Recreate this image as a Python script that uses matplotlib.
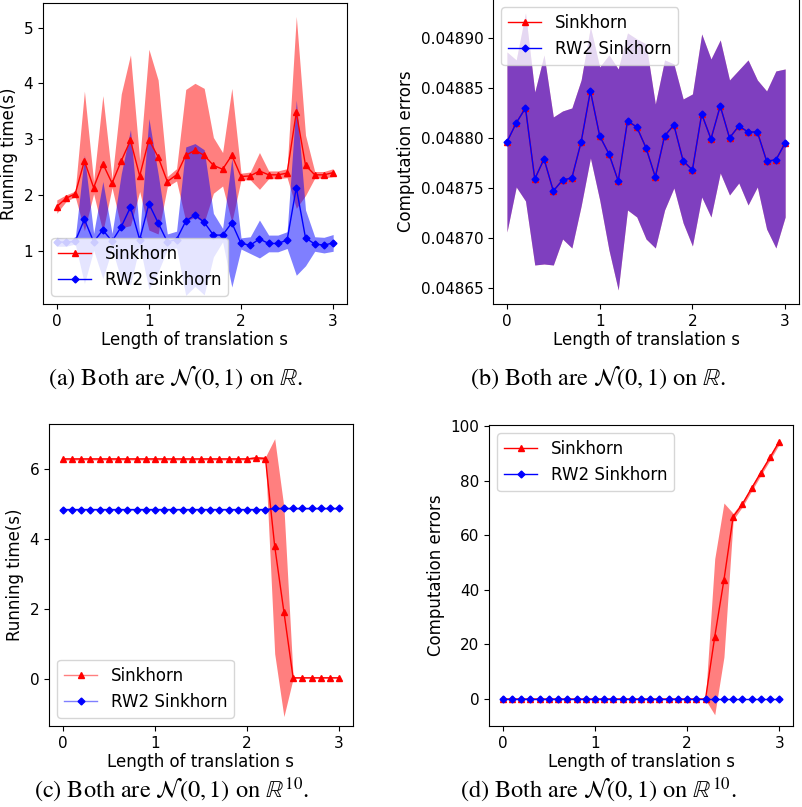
import numpy as np
import matplotlib.pyplot as plt
from matplotlib.ticker import FormatStrFormatter

plt.rcParams['mathtext.fontset'] = 'stix'

s = np.round(np.arange(31) * 0.1, 1)

# (a) running time, N(0,1) on R
time_a_sink = [1.79, 1.94, 2.02, 2.61, 2.13, 2.56, 2.21, 2.61, 2.98, 2.34, 2.99,
               2.68, 2.24, 2.36, 2.71, 2.80, 2.71, 2.53, 2.46, 2.71, 2.33, 2.34,
               2.43, 2.36, 2.36, 2.39, 3.48, 2.53, 2.36, 2.36, 2.40]
std_a_sink = [0.12, 0.06, 0.05, 1.25, 0.11, 1.22, 0.08, 1.20, 1.53, 0.28, 1.62,
              1.38, 0.09, 0.11, 1.18, 1.20, 1.20, 0.50, 0.30, 1.20, 0.06, 0.07,
              0.33, 0.07, 0.07, 0.08, 1.72, 0.54, 0.06, 0.06, 0.07]
time_a_rw2 = [1.16, 1.15, 1.17, 1.56, 1.16, 1.37, 1.17, 1.43, 1.78, 1.20, 1.84,
              1.50, 1.16, 1.20, 1.53, 1.64, 1.51, 1.28, 1.28, 1.50, 1.13, 1.10,
              1.21, 1.13, 1.13, 1.19, 2.13, 1.23, 1.12, 1.10, 1.14]
std_a_rw2 = [0.08, 0.07, 0.05, 1.15, 0.15, 0.87, 0.14, 0.95, 1.39, 0.11, 1.53,
             0.88, 0.14, 0.15, 1.33, 1.28, 1.30, 0.39, 0.12, 1.15, 0.10, 0.15,
             0.34, 0.15, 0.15, 0.15, 1.57, 0.50, 0.13, 0.14, 0.15]

# (b) computation errors, N(0,1) on R (both methods give the same values)
err_b = [0.048796, 0.048815, 0.048830, 0.048759, 0.048779, 0.048747, 0.048758,
         0.048760, 0.048796, 0.048847, 0.048802, 0.048784, 0.048757, 0.048817,
         0.048811, 0.048790, 0.048761, 0.048802, 0.048813, 0.048777, 0.048768,
         0.048824, 0.048799, 0.048832, 0.048800, 0.048812, 0.048806, 0.048806,
         0.048777, 0.048778, 0.048795]
err_b_low = [0.048706, 0.048751, 0.048737, 0.048673, 0.048674, 0.048673, 0.048699,
             0.048690, 0.048732, 0.048780, 0.048738, 0.048688, 0.048648, 0.048728,
             0.048721, 0.048699, 0.048690, 0.048728, 0.048750, 0.048715, 0.048692,
             0.048741, 0.048721, 0.048765, 0.048743, 0.048755, 0.048733, 0.048751,
             0.048709, 0.048690, 0.048721]
err_b_high = [0.048886, 0.048878, 0.048925, 0.048846, 0.048883, 0.048821, 0.048827,
              0.048830, 0.048858, 0.048911, 0.048871, 0.048883, 0.048869, 0.048905,
              0.048899, 0.048894, 0.048834, 0.048878, 0.048874, 0.048839, 0.048844,
              0.048904, 0.048879, 0.048898, 0.048858, 0.048868, 0.048878, 0.048858,
              0.048847, 0.048867, 0.048869]

# (c) running time, N(0,1) on R^10
time_c_sink = [6.30] * 21 + [6.33, 6.31, 3.80, 1.92, 0.03, 0.03, 0.03, 0.03, 0.03, 0.03]
std_c_sink = [0.03] * 21 + [0.04, 0.05, 3.08, 3.00, 0.02, 0.01, 0.01, 0.01, 0.01, 0.01]
time_c_rw2 = [4.85] * 23 + [4.88] * 8
std_c_rw2 = [0.02] * 31

# (d) computation errors, N(0,1) on R^10
err_d_sink = [0.0] * 23 + [22.8, 43.6, 66.8, 71.4, 77.2, 82.9, 88.5, 94.3]
std_d_sink = [0.0] * 22 + [0.3, 28.6, 28.2, 1.2, 1.0, 1.0, 1.0, 1.0, 1.0]
err_d_rw2 = [0.0] * 31
std_d_rw2 = [0.0] * 31

fig = plt.figure(figsize=(8.03, 8.07), dpi=100)
ax_a = fig.add_axes([0.0535, 0.6233, 0.3786, 0.3730])
ax_b = fig.add_axes([0.6140, 0.6233, 0.3811, 0.3780])
ax_c = fig.add_axes([0.0610, 0.1004, 0.3786, 0.3742])
ax_d = fig.add_axes([0.6090, 0.1004, 0.3786, 0.3730])


def panel(ax, m1, lo1, hi1, m2, lo2, hi2, ylabel, loc):
    ax.fill_between(s, lo1, hi1, color='red', alpha=0.5, lw=0)
    ax.fill_between(s, lo2, hi2, color='blue', alpha=0.5, lw=0)
    ax.plot(s, m1, color='red', marker='^', ms=4.5, lw=1, label='Sinkhorn')
    ax.plot(s, m2, color='blue', marker='D', ms=3.5, lw=1, label='RW2 Sinkhorn')
    ax.set_xticks([0, 1, 2, 3])
    ax.set_xlabel('Length of translation s', fontsize=12, labelpad=2)
    ax.set_ylabel(ylabel, fontsize=12)
    ax.tick_params(labelsize=11)
    return ax.legend(loc=loc, fontsize=12)


def band(m, sd):
    m = np.array(m)
    sd = np.array(sd)
    return m, m - sd, m + sd


panel(ax_a, *band(time_a_sink, std_a_sink), *band(time_a_rw2, std_a_rw2),
      'Running time(s)', 'lower left')
ax_a.set_ylim(0.045, 5.44)
ax_a.set_yticks([1, 2, 3, 4, 5])

panel(ax_b, err_b, err_b_low, err_b_high, err_b, err_b_low, err_b_high,
      'Computation errors', 'upper left')
ax_b.set_ylim(0.048634, 0.048939)
ax_b.yaxis.set_major_formatter(FormatStrFormatter('%.5f'))

leg_c = panel(ax_c, *band(time_c_sink, std_c_sink), *band(time_c_rw2, std_c_rw2),
              'Running time(s)', 'lower left')
ax_c.set_ylim(-1.35, 7.3)
ax_c.set_yticks([0, 2, 4, 6])
for h, c in zip(leg_c.get_lines(), [(1, 0, 0), (0, 0, 1)]):
    h.set_color(c + (0.5,))
    h.set_markerfacecolor(c)
    h.set_markeredgecolor(c)

panel(ax_d, *band(err_d_sink, std_d_sink), *band(err_d_rw2, std_d_rw2),
      'Computation errors', 'upper left')
ax_d.set_ylim(-9.9, 100.4)
ax_d.set_yticks([0, 20, 40, 60, 80, 100])

cap = dict(fontsize=17.5, family='STIXGeneral', ha='center', va='center')
fig.text(0.218, 1 - 377 / 807, r'(a) Both are $\mathcal{N}(0,1)$ on $\mathbb{R}$.', **cap)
fig.text(0.745, 1 - 377 / 807, r'(b) Both are $\mathcal{N}(0,1)$ on $\mathbb{R}$.', **cap)
fig.text(0.214, 1 - 790 / 807, r'(c) Both are $\mathcal{N}(0,1)$ on $\mathbb{R}^{10}$.', **cap)
fig.text(0.745, 1 - 790 / 807, r'(d) Both are $\mathcal{N}(0,1)$ on $\mathbb{R}^{10}$.', **cap)

fig.savefig('out.png', dpi=100)
